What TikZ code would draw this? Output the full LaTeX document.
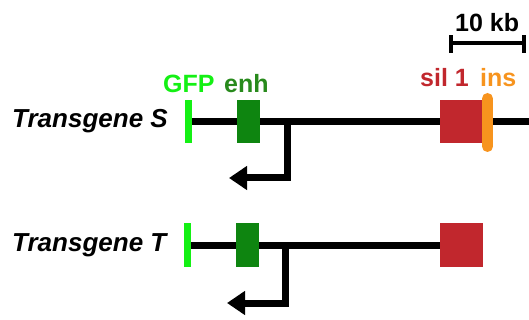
\documentclass[tikz,border=0pt]{standalone}
\usepackage{fontspec}
\setmainfont{Liberation Sans}
\usetikzlibrary{arrows.meta}
\definecolor{gfpgreen}{RGB}{20,240,20}
\definecolor{enhgreen}{RGB}{14,133,16}
\definecolor{enhtext}{RGB}{40,138,28}
\definecolor{silred}{RGB}{193,39,45}
\definecolor{insorange}{RGB}{247,148,30}
\tikzset{
  lbl/.style={font=\fontsize{25}{28}\selectfont\bfseries, inner sep=0pt, anchor=base west},
  tglbl/.style={lbl, font=\fontsize{26}{29}\selectfont\bfseries\itshape},
  chrom/.style={line width=7pt, black},
  prom/.style={line width=7pt, black, line join=miter, -{Triangle[length=18pt,width=23pt]}},
  gfpbar/.style={fill=gfpgreen, draw=none},
  enhbox/.style={fill=enhgreen, draw=none},
  silbox/.style={fill=silred, draw=none},
  insbar/.style={line width=11pt, insorange, line cap=round},
  scalebar/.style={line width=4pt, black}
}
\begin{document}
\begin{tikzpicture}[x=1pt,y=-1pt]
\useasboundingbox (0,0) rectangle (529,320);
% scale bar
\coordinate (sbL) at (451,43);
\coordinate (sbR) at (524,43);
\draw[scalebar] (sbL) -- (sbR);
\draw[scalebar] (451,35.5) -- (451,53);
\draw[scalebar] (524,35.5) -- (524,53);
\node[lbl] (kb) at (455,32) {10 kb};

% Transgene S
\node[tglbl] (tS) at (12,128) {Transgene S};
\node[lbl, text=gfpgreen] (gfpL) at (163,93) {GFP};
\node[lbl, text=enhtext] (enhL) at (224,93) {enh};
\node[lbl, text=silred] (silL) at (420,87) {sil 1};
\node[lbl, text=insorange] (insL) at (480,87) {ins};
\coordinate (sStart) at (188,122);
\coordinate (sEnd) at (529,122);
\draw[chrom] (sStart) -- (sEnd);
\coordinate (sP) at (287,122);
\coordinate (sPc) at (287,178);
\coordinate (sPt) at (229,178);
\draw[prom] (sP) -- (sPc) -- (sPt);
\fill[gfpbar] (185,100) rectangle (192,143);
\fill[enhbox] (237,100) rectangle (260,143);
\fill[silbox] (440,100) rectangle (483,143);
\draw[insbar] (487.5,98.5) -- (487.5,146.5);

% Transgene T
\node[tglbl] (tT) at (12,251) {Transgene T};
\coordinate (tStart) at (188,245);
\coordinate (tEnd) at (440,245);
\draw[chrom] (tStart) -- (tEnd);
\coordinate (tP) at (285,245);
\coordinate (tPc) at (285,303);
\coordinate (tPt) at (227,303);
\draw[prom] (tP) -- (tPc) -- (tPt);
\fill[gfpbar] (184,223) rectangle (191,267);
\fill[enhbox] (236,223) rectangle (259,267);
\fill[silbox] (440,223) rectangle (483,267);
\end{tikzpicture}
\end{document}
